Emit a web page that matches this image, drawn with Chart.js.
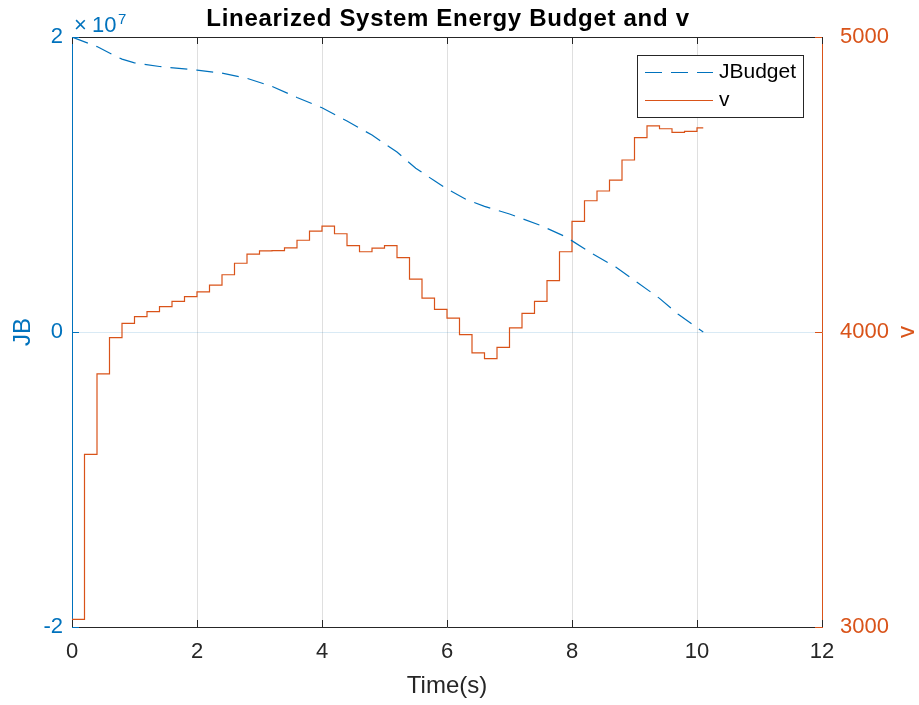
<!DOCTYPE html>
<html>
<head>
<meta charset="utf-8">
<script src="https://cdn.jsdelivr.net/npm/chart.js@4.4.1/dist/chart.umd.min.js"></script>
<style>
  html, body { margin: 0; padding: 0; background: #fff; }
</style>
</head>
<body>
<canvas id="energyChart" width="919" height="705"></canvas>
<script>
/* data */

// energy budget, in units of 1e7
const budgetTime = [0, 0.4, 0.65, 0.8, 1.0, 1.4, 2.0, 2.4, 2.8, 3.2, 3.6, 4.0, 4.4, 4.8, 5.2, 5.5, 5.8, 6.0, 6.3, 6.6, 7.0, 7.5, 7.9, 8.3, 8.7, 9.0, 9.4, 9.7, 10.1];
const budgetE7 = [2.0, 1.935, 1.88, 1.85, 1.825, 1.80, 1.776, 1.755, 1.72, 1.665, 1.59, 1.52, 1.43, 1.335, 1.22, 1.11, 1.025, 0.97, 0.90, 0.852, 0.80, 0.722, 0.645, 0.538, 0.44, 0.35, 0.228, 0.12, 0.0];

// sampled speed, held between samples
const vTime = [0, 0.2, 0.4, 0.6, 0.8, 1.0, 1.2, 1.4, 1.6, 1.8,
    2.0, 2.2, 2.4, 2.6, 2.8, 3.0, 3.2, 3.4, 3.6, 3.8,
    4.0, 4.2, 4.4, 4.6, 4.8, 5.0, 5.2, 5.4, 5.6, 5.8,
    6.0, 6.2, 6.4, 6.6, 6.8, 7.0, 7.2, 7.4, 7.6, 7.8,
    8.0, 8.2, 8.4, 8.6, 8.8, 9.0, 9.2, 9.4, 9.6, 9.8,
    10.0, 10.1];
const vValues = [3026, 3585, 3858, 3981, 4029, 4052, 4069, 4086, 4104, 4120,
    4136, 4159, 4194, 4233, 4264, 4275, 4276, 4285, 4311, 4342,
    4359, 4333, 4293, 4272, 4284, 4293, 4252, 4179, 4115, 4077,
    4047, 3991, 3929, 3910, 3948, 4014, 4063, 4104, 4174, 4272,
    4375, 4445, 4478, 4515, 4583, 4659, 4699, 4689, 4677, 4680,
    4692, 4692];

const xTicks = [0, 2, 4, 6, 8, 10, 12];
const budgetTicks = [-2, 0, 2];
const vTicks = [3000, 4000, 5000];

const titleText = "Linearized System Energy Budget and v";
const xLabel = "Time(s)";
const leftLabel = "JB";
const rightLabel = "v";
const legendNames = ["JBudget", "v"];

/* styles */

const FONT = "'Liberation Sans', Arial, Helvetica, sans-serif";
const BLUE = "#0072BD";
const ORANGE = "#D95319";
const DARK = "#262626";
const DASH = [17, 9];

/* text, ticks and legend drawn on top of the plot */

const decorPlugin = {
    id: "decor",
    afterDraw(chart) {
        const ctx = chart.ctx;
        const area = chart.chartArea;
        const xs = chart.scales.x;
        const yl = chart.scales.yBudget;
        const yr = chart.scales.yV;

        ctx.save();

        // top edge of the box
        ctx.strokeStyle = DARK;
        ctx.lineWidth = 1;
        ctx.beginPath();
        ctx.moveTo(area.left, area.top + 0.5);
        ctx.lineTo(area.right, area.top + 0.5);
        ctx.stroke();

        // inward tick marks
        const tl = 7;
        xTicks.forEach(t => {
            const px = Math.round(xs.getPixelForValue(t)) + 0.5;
            ctx.beginPath();
            ctx.moveTo(px, area.bottom);
            ctx.lineTo(px, area.bottom - tl);
            ctx.moveTo(px, area.top);
            ctx.lineTo(px, area.top + tl);
            ctx.stroke();
        });
        ctx.strokeStyle = BLUE;
        budgetTicks.forEach(t => {
            const py = Math.round(yl.getPixelForValue(t)) + 0.5;
            ctx.beginPath();
            ctx.moveTo(area.left, py);
            ctx.lineTo(area.left + tl, py);
            ctx.stroke();
        });
        ctx.strokeStyle = ORANGE;
        vTicks.forEach(t => {
            const py = Math.round(yr.getPixelForValue(t)) + 0.5;
            ctx.beginPath();
            ctx.moveTo(area.right, py);
            ctx.lineTo(area.right - tl, py);
            ctx.stroke();
        });

        // title
        ctx.fillStyle = "#000";
        ctx.font = `bold 24px ${FONT}`;
        ctx.letterSpacing = "0.7px";
        ctx.textAlign = "center";
        ctx.textBaseline = "alphabetic";
        ctx.fillText(titleText, (area.left + area.right) / 2 + 1, 26);
        ctx.letterSpacing = "0px";

        // x label
        ctx.fillStyle = DARK;
        ctx.font = `24px ${FONT}`;
        ctx.fillText(xLabel, (area.left + area.right) / 2, 693);

        // y labels, both read bottom to top
        ctx.textBaseline = "middle";
        const midY = (area.top + area.bottom) / 2;
        ctx.save();
        ctx.translate(23, midY);
        ctx.rotate(-Math.PI / 2);
        ctx.fillStyle = BLUE;
        ctx.fillText(leftLabel, 0, 0);
        ctx.restore();

        ctx.save();
        ctx.translate(907, midY);
        ctx.rotate(-Math.PI / 2);
        ctx.fillStyle = ORANGE;
        ctx.fillText(rightLabel, 0, 0);
        ctx.restore();

        // exponent of the left axis
        ctx.fillStyle = BLUE;
        ctx.textAlign = "left";
        ctx.textBaseline = "alphabetic";
        ctx.font = `22px ${FONT}`;
        ctx.fillText("\u00d7", 74, 31.5);
        ctx.fillText("10", 92, 31.5);
        ctx.font = `15px ${FONT}`;
        ctx.fillText("7", 118, 23.5);

        // legend box
        const bx = 637.5, by = 55.5, bw = 166, bh = 62;
        ctx.fillStyle = "#fff";
        ctx.fillRect(bx, by, bw, bh);
        ctx.strokeStyle = DARK;
        ctx.lineWidth = 1;
        ctx.strokeRect(bx, by, bw, bh);

        const rows = [
            { y: 72.5, color: BLUE, dash: DASH, name: legendNames[0] },
            { y: 100.5, color: ORANGE, dash: [], name: legendNames[1] }
        ];
        rows.forEach(row => {
            ctx.strokeStyle = row.color;
            ctx.lineWidth = 1.2;
            ctx.setLineDash(row.dash);
            ctx.beginPath();
            ctx.moveTo(645, row.y);
            ctx.lineTo(713, row.y);
            ctx.stroke();
            ctx.setLineDash([]);
            ctx.fillStyle = "#000";
            ctx.font = `21px ${FONT}`;
            ctx.textBaseline = "middle";
            ctx.fillText(row.name, 719, row.y);
        });

        ctx.restore();
    }
};

/* chart */

const energyChart = new Chart(document.querySelector("#energyChart"), {
    type: "line",
    data: {
        datasets: [
            {
                label: legendNames[0],
                data: budgetTime.map((t, i) => ({ x: t, y: budgetE7[i] })),
                yAxisID: "yBudget",
                borderColor: BLUE,
                borderWidth: 1.2,
                borderDash: DASH,
                pointRadius: 0,
                tension: 0
            },
            {
                label: legendNames[1],
                data: vTime.map((t, i) => ({ x: t, y: vValues[i] })),
                yAxisID: "yV",
                borderColor: ORANGE,
                borderWidth: 1.2,
                stepped: "before",
                pointRadius: 0,
                tension: 0
            }
        ]
    },
    options: {
        responsive: false,
        animation: false,
        layout: {
            padding: { top: 37, left: 0, right: 0, bottom: 0 }
        },
        plugins: {
            legend: { display: false },
            title: { display: false },
            tooltip: { enabled: false }
        },
        scales: {
            x: {
                type: "linear",
                min: 0,
                max: 12,
                afterBuildTicks: scale => {
                    scale.ticks = xTicks.map(v => ({ value: v }));
                },
                ticks: {
                    color: DARK,
                    font: { family: FONT, size: 22 },
                    padding: 12,
                    maxRotation: 0,
                    callback: value => String(value)
                },
                grid: {
                    color: "rgba(38,38,38,0.15)",
                    drawTicks: false
                },
                border: { color: DARK },
                afterFit: scale => { scale.height = 78; }
            },
            yBudget: {
                type: "linear",
                position: "left",
                min: -2,
                max: 2,
                afterBuildTicks: scale => {
                    scale.ticks = budgetTicks.map(v => ({ value: v }));
                },
                ticks: {
                    color: BLUE,
                    font: { family: FONT, size: 22 },
                    padding: 9,
                    callback: value => String(value)
                },
                grid: {
                    color: "rgba(0,114,189,0.15)",
                    drawTicks: false
                },
                border: { color: BLUE },
                afterFit: scale => { scale.width = 72; }
            },
            yV: {
                type: "linear",
                position: "right",
                min: 3000,
                max: 5000,
                afterBuildTicks: scale => {
                    scale.ticks = vTicks.map(v => ({ value: v }));
                },
                ticks: {
                    color: ORANGE,
                    font: { family: FONT, size: 22 },
                    padding: 10,
                    callback: value => String(value)
                },
                grid: { display: false },
                border: { color: ORANGE },
                afterFit: scale => { scale.width = 97; }
            }
        }
    },
    plugins: [decorPlugin]
});
</script>
</body>
</html>
